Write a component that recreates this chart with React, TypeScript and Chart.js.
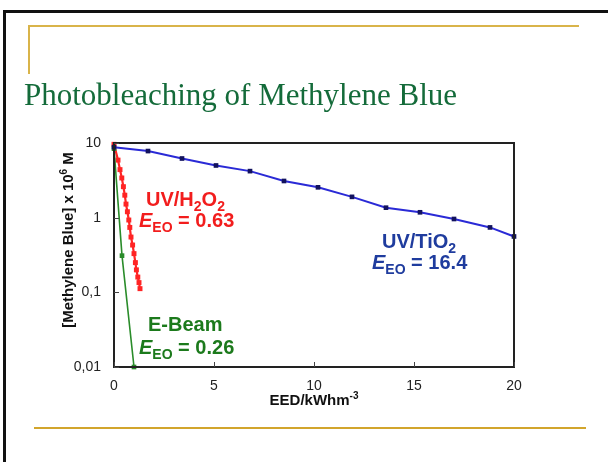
import React, { useEffect, useRef } from "react";
import { Chart, registerables } from "chart.js";

Chart.register(...registerables);

// ---- data ----
const blueX = [0, 1.7, 3.4, 5.1, 6.8, 8.5, 10.2, 11.9, 13.6, 15.3, 17.0, 18.8, 20.0];
const blueY = [8.8, 7.8, 6.2, 5.0, 4.2, 3.1, 2.55, 1.9, 1.36, 1.18, 0.96, 0.74, 0.56];

const redX = [0, 0.2, 0.3, 0.39, 0.47, 0.54, 0.6, 0.67, 0.74, 0.79, 0.85, 0.93, 1.0, 1.07, 1.12, 1.19, 1.25, 1.3];
const redY = [9.6, 5.9, 4.4, 3.4, 2.6, 2.0, 1.52, 1.2, 0.93, 0.74, 0.55, 0.43, 0.33, 0.25, 0.2, 0.16, 0.135, 0.112];

const greenX = [0, 0.4, 1.0];
const greenY = [8.4, 0.31, 0.01];

const seriesNames = ["UV/TiO2", "E-Beam", "UV/H2O2"];
const xTickValues = [0, 5, 10, 15, 20];
const yTickValues = [0.01, 0.1, 1, 10];
const yTickLabels = ["0,01", "0,1", "1", "10"];
const titleText = "Photobleaching of Methylene Blue";

type Run = { t: string; sub?: boolean; sup?: boolean; it?: boolean };

const yTitleRuns: Run[] = [{ t: "[Methylene Blue] x 10" }, { t: "6", sup: true }, { t: " M" }];
const xTitleRuns: Run[] = [{ t: "EED/kWhm" }, { t: "-3", sup: true }];
const h2o2Runs: Run[] = [{ t: "UV/H" }, { t: "2", sub: true }, { t: "O" }, { t: "2", sub: true }];
const tio2Runs: Run[] = [{ t: "UV/TiO" }, { t: "2", sub: true }];
const ebeamRuns: Run[] = [{ t: "E-Beam" }];
const eeoRuns = (v: string): Run[] => [{ t: "E", it: true }, { t: "EO", sub: true }, { t: " = " + v }];
const eeoValues = ["0.63", "16.4", "0.26"];

const FONT = '"Liberation Sans", Arial, sans-serif';

function runFont(r: Run, size: number) {
  const s = r.sub || r.sup ? Math.round(size * 0.68) : size;
  return `${r.it ? "italic " : ""}bold ${s}px ${FONT}`;
}

function runsWidth(ctx: CanvasRenderingContext2D, runs: Run[], size: number) {
  let w = 0;
  for (const r of runs) {
    ctx.font = runFont(r, size);
    w += ctx.measureText(r.t).width;
  }
  return w;
}

function drawRuns(ctx: CanvasRenderingContext2D, x: number, y: number, runs: Run[], size: number, color: string) {
  ctx.fillStyle = color;
  ctx.textAlign = "left";
  ctx.textBaseline = "alphabetic";
  let cx = x;
  for (const r of runs) {
    ctx.font = runFont(r, size);
    const dy = r.sub ? size * 0.25 : r.sup ? -size * 0.4 : 0;
    ctx.fillText(r.t, cx, y + dy);
    cx += ctx.measureText(r.t).width;
  }
}

const decorPlugin = {
  id: "decor",
  beforeDraw(chart: any) {
    const ctx: CanvasRenderingContext2D = chart.ctx;
    ctx.save();
    // slide frame
    ctx.fillStyle = "#111";
    ctx.fillRect(3, 10, 608, 3);
    ctx.fillRect(3, 10, 3, 462);
    // gold top line and vertical stub
    ctx.fillStyle = "#d9b44a";
    ctx.fillRect(28, 25, 551, 2);
    ctx.fillRect(28, 25, 2, 49);
    // bottom gold line
    ctx.fillStyle = "#d2a52c";
    ctx.fillRect(34, 427, 552, 2);
    ctx.restore();
  },
  afterDraw(chart: any) {
    const ctx: CanvasRenderingContext2D = chart.ctx;
    const { left, right, top, bottom } = chart.chartArea;
    const xs = chart.scales.x;
    const ys = chart.scales.y;
    ctx.save();
    // plot frame
    ctx.strokeStyle = "#222";
    ctx.lineWidth = 2;
    ctx.strokeRect(left, top, right - left, bottom - top);
    // inward tick marks
    ctx.lineWidth = 1;
    ctx.strokeStyle = "#444";
    ctx.beginPath();
    for (const v of xTickValues) {
      const px = Math.round(xs.getPixelForValue(v)) + 0.5;
      ctx.moveTo(px, bottom);
      ctx.lineTo(px, bottom - 5);
    }
    for (const v of yTickValues) {
      const py = Math.round(ys.getPixelForValue(v)) + 0.5;
      ctx.moveTo(left, py);
      ctx.lineTo(left + 5, py);
    }
    ctx.stroke();

    // axis titles
    const xw = runsWidth(ctx, xTitleRuns, 15);
    drawRuns(ctx, (left + right) / 2 - xw / 2, 405, xTitleRuns, 15, "#111");
    ctx.save();
    ctx.translate(73, 240);
    ctx.rotate(-Math.PI / 2);
    const yw = runsWidth(ctx, yTitleRuns, 15);
    drawRuns(ctx, -yw / 2, 0, yTitleRuns, 15, "#111");
    ctx.restore();

    // annotations
    drawRuns(ctx, 146, 206, h2o2Runs, 20, "#f21d1d");
    drawRuns(ctx, 139, 227, eeoRuns(eeoValues[0]), 20, "#f21d1d");
    drawRuns(ctx, 382, 248, tio2Runs, 20, "#1f3c9e");
    drawRuns(ctx, 372, 269, eeoRuns(eeoValues[1]), 20, "#1f3c9e");
    drawRuns(ctx, 148, 331, ebeamRuns, 20, "#1c7a1c");
    drawRuns(ctx, 139, 354, eeoRuns(eeoValues[2]), 20, "#1c7a1c");
    ctx.restore();
  },
};

export default function App() {
  const ref = useRef<HTMLCanvasElement | null>(null);

  useEffect(() => {
    document.body.style.margin = "0";
    const canvas = ref.current;
    if (!canvas) return;
    const toPts = (xs: number[], ys: number[]) => xs.map((x, i) => ({ x, y: ys[i] }));
    const chart = new Chart(canvas, {
      type: "line",
      data: {
        datasets: [
          {
            label: seriesNames[0],
            data: toPts(blueX, blueY),
            borderColor: "#2a2ad6",
            backgroundColor: "#12125e",
            pointBackgroundColor: "#12125e",
            pointBorderColor: "#12125e",
            pointStyle: "rect",
            pointRadius: 3.3,
            pointBorderWidth: 0,
            borderWidth: 2,
            tension: 0,
            clip: false as any,
          },
          {
            label: seriesNames[1],
            data: toPts(greenX, greenY),
            borderColor: "#2a8c2a",
            backgroundColor: "#2a8c2a",
            pointBackgroundColor: "#2a8c2a",
            pointBorderColor: "#2a8c2a",
            pointStyle: "rect",
            pointRadius: 3.3,
            pointBorderWidth: 0,
            borderWidth: 1.6,
            tension: 0,
            clip: false as any,
          },
          {
            label: seriesNames[2],
            data: toPts(redX, redY),
            borderColor: "#ff2424",
            backgroundColor: "#ff2424",
            pointBackgroundColor: "#ff2424",
            pointBorderColor: "#ff2424",
            pointStyle: "rect",
            pointRadius: 3.5,
            pointBorderWidth: 0,
            borderWidth: 2.2,
            tension: 0,
            clip: false as any,
          },
        ],
      },
      options: {
        animation: false,
        responsive: false,
        maintainAspectRatio: false,
        layout: { padding: { left: 0, top: 143, right: 94, bottom: 0 } },
        plugins: {
          legend: { display: false },
          tooltip: { enabled: false },
          title: { display: false },
        },
        scales: {
          x: {
            type: "linear",
            min: 0,
            max: 20,
            afterFit: (s: any) => {
              s.height = 95;
            },
            afterBuildTicks: (s: any) => {
              s.ticks = xTickValues.map((v) => ({ value: v }));
            },
            ticks: {
              font: { size: 14, family: FONT },
              color: "#222",
              padding: 3,
              maxRotation: 0,
            },
            grid: { display: false },
            border: { display: false },
          },
          y: {
            type: "logarithmic",
            min: 0.01,
            max: 10,
            afterFit: (s: any) => {
              s.width = 114;
            },
            afterBuildTicks: (s: any) => {
              s.ticks = yTickValues.map((v) => ({ value: v }));
            },
            ticks: {
              font: { size: 14, family: FONT },
              color: "#222",
              padding: 5,
              callback: (v: any) => {
                const i = yTickValues.findIndex((t) => Math.abs(t - Number(v)) < 1e-9);
                return i >= 0 ? yTickLabels[i] : "";
              },
            },
            grid: { display: false },
            border: { display: false },
          },
        },
      },
      plugins: [decorPlugin],
    });
    return () => chart.destroy();
  }, []);

  return (
    <div style={{ position: "relative", width: 608, height: 462, background: "#fff", overflow: "hidden" }}>
      <canvas ref={ref} width={608} height={462} style={{ position: "absolute", left: 0, top: 0, display: "block" }} />
      <div
        style={{
          position: "absolute",
          left: 24,
          top: 79,
          fontFamily: '"Liberation Serif", "Times New Roman", serif',
          fontSize: 31,
          lineHeight: "31px",
          color: "#146b3a",
          whiteSpace: "nowrap",
        }}
      >
        {titleText}
      </div>
    </div>
  );
}
